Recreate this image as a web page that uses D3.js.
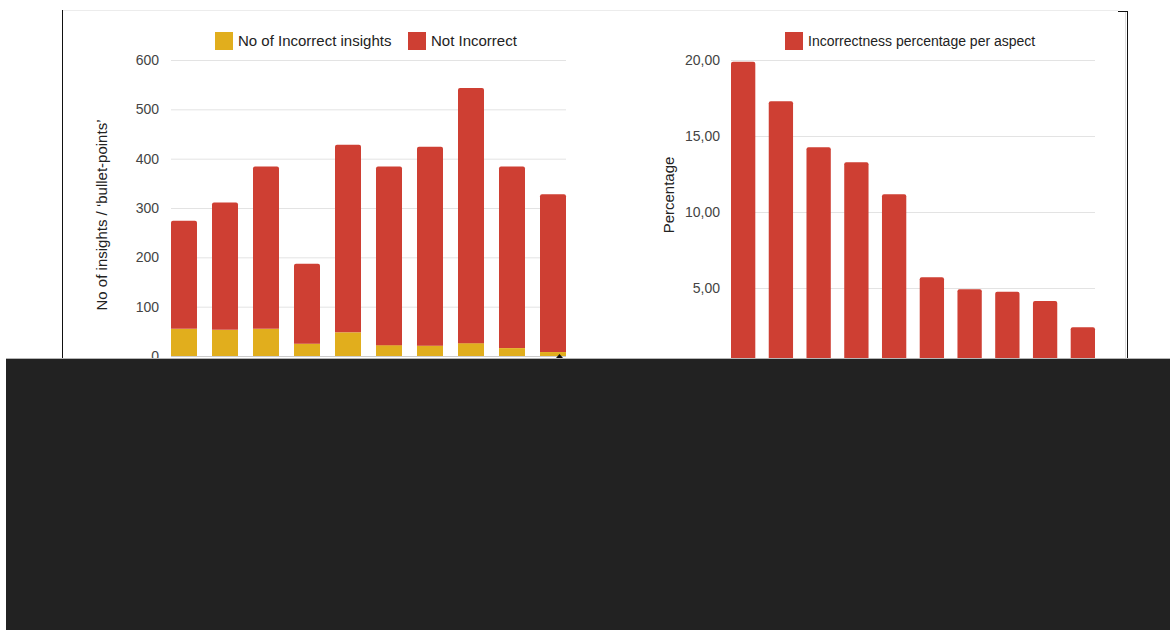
<!DOCTYPE html>
<html>
<head>
<meta charset="utf-8">
<script src="https://cdn.jsdelivr.net/npm/d3@7"></script>
<style>
  html, body { margin: 0; padding: 0; background: #fff; }
  svg { display: block; font-family: "Liberation Sans", Arial, sans-serif; }
</style>
</head>
<body>
<svg id="chart" width="1170" height="630"></svg>
<script>
// ---- data ----
const categories = ["A1","A2","A3","A4","A5","A6","A7","A8","A9","A10"];
const incorrect = [55, 53, 55, 25, 48, 22, 21, 26, 16, 8];
const notIncorrect = [219, 258, 329, 162, 380, 362, 403, 517, 368, 320];
const incorrectPct = [19.89, 17.28, 14.26, 13.27, 11.16, 5.70, 4.91, 4.76, 4.14, 2.41];
const leftTicks = [0, 100, 200, 300, 400, 500, 600];
const rightTicks = [0, 5, 10, 15, 20];
const leftLegend = ["No of Incorrect insights", "Not Incorrect"];
const rightLegend = ["Incorrectness percentage per aspect"];
const leftTitle = "No of insights / \u2018bullet-points\u2019";
const rightTitle = "Percentage";

const RED = "#ce3f33", YELLOW = "#e1ae1d", GRID = "#e3e3e3", TICK = "#444", LEG = "#222";

const svg = d3.select("#chart");

// frame
svg.append("line").attr("x1", 62).attr("x2", 1118).attr("y1", 10.5).attr("y2", 10.5).attr("stroke", "#ececec");
svg.append("line").attr("x1", 62.5).attr("x2", 62.5).attr("y1", 10).attr("y2", 358).attr("stroke", "#111");
svg.append("line").attr("x1", 1118).attr("x2", 1127).attr("y1", 11.5).attr("y2", 11.5).attr("stroke", "#111");
svg.append("line").attr("x1", 1127.5).attr("x2", 1127.5).attr("y1", 11).attr("y2", 358).attr("stroke", "#111");
svg.append("line").attr("x1", 1125.5).attr("x2", 1125.5).attr("y1", 12).attr("y2", 358).attr("stroke", "#ddd");

// ---- left chart ----
const xL = d3.scaleBand().domain(categories).range([171, 566]).paddingInner(0.366).paddingOuter(0);
const yL = d3.scaleLinear().domain([0, 600]).range([356, 60]);

const gL = svg.append("g");
const axL = gL.append("g").attr("transform", "translate(171,0)")
  .call(d3.axisLeft(yL).tickValues(leftTicks).tickSize(-(566 - 171)).tickPadding(12).tickFormat(d3.format("d")));
axL.select(".domain").remove();
axL.selectAll(".tick line").attr("stroke", GRID);
axL.selectAll(".tick text").attr("fill", TICK).attr("font-size", 14).attr("font-family", "Liberation Sans, Arial, sans-serif");

const stacked = categories.map((c, i) => ({ c, inc: incorrect[i], notInc: notIncorrect[i] }));
gL.append("g").selectAll("rect.inc").data(stacked).join("rect")
  .attr("x", d => xL(d.c)).attr("width", xL.bandwidth())
  .attr("y", d => yL(d.inc)).attr("height", d => yL(0) - yL(d.inc))
  .attr("fill", YELLOW);
gL.append("g").selectAll("path.not").data(stacked).join("path")
  .attr("fill", RED)
  .attr("d", d => {
    const x0 = xL(d.c), w = xL.bandwidth(), yt = yL(d.inc + d.notInc), yb = yL(d.inc), r = 2;
    return `M${x0},${yb}V${yt + r}Q${x0},${yt} ${x0 + r},${yt}H${x0 + w - r}Q${x0 + w},${yt} ${x0 + w},${yt + r}V${yb}Z`;
  });
gL.append("line").attr("x1", 171).attr("x2", 566).attr("y1", 356.5).attr("y2", 356.5).attr("stroke", "#ccc");

// left legend
const legL = gL.append("g");
legL.append("rect").attr("x", 215).attr("y", 32).attr("width", 18).attr("height", 18).attr("fill", YELLOW);
legL.append("text").attr("x", 238).attr("y", 46).attr("font-size", 15).attr("fill", LEG).text(leftLegend[0]);
legL.append("rect").attr("x", 408).attr("y", 32).attr("width", 18).attr("height", 18).attr("fill", RED);
legL.append("text").attr("x", 431).attr("y", 46).attr("font-size", 15).attr("fill", LEG).text(leftLegend[1]);

gL.append("text").attr("transform", "translate(107,215) rotate(-90)").attr("text-anchor", "middle")
  .attr("font-size", 15).attr("fill", LEG).text(leftTitle);

// cursor marker
gL.append("path").attr("d", "M556,358L559.5,354L563,358Z").attr("fill", "#111");

// ---- right chart ----
const xR = d3.scaleBand().domain(categories).range([731, 1095]).paddingInner(0.356).paddingOuter(0);
const yR = d3.scaleLinear().domain([0, 20]).range([364, 60]);

const gR = svg.append("g");
const axR = gR.append("g").attr("transform", "translate(731,0)")
  .call(d3.axisLeft(yR).tickValues(rightTicks).tickSize(-(1095 - 731)).tickPadding(11)
    .tickFormat(d => d3.format(".2f")(d).replace(".", ",")));
axR.select(".domain").remove();
axR.selectAll(".tick line").attr("stroke", GRID);
axR.selectAll(".tick text").attr("fill", TICK).attr("font-size", 14).attr("font-family", "Liberation Sans, Arial, sans-serif");

gR.append("g").selectAll("rect").data(categories.map((c, i) => ({ c, v: incorrectPct[i] }))).join("rect")
  .attr("x", d => xR(d.c)).attr("width", xR.bandwidth())
  .attr("y", d => yR(d.v)).attr("height", d => yR(0) - yR(d.v))
  .attr("rx", 2).attr("fill", RED);

const legR = gR.append("g");
legR.append("rect").attr("x", 785).attr("y", 32).attr("width", 18).attr("height", 18).attr("fill", RED);
legR.append("text").attr("x", 808).attr("y", 46).attr("font-size", 14).attr("fill", LEG).text(rightLegend[0]);

gR.append("text").attr("transform", "translate(674,195) rotate(-90)").attr("text-anchor", "middle")
  .attr("font-size", 15).attr("fill", LEG).text(rightTitle);

// ---- dark overlay ----
svg.append("rect").attr("x", 6).attr("y", 358).attr("width", 1164).attr("height", 272).attr("fill", "#222");
svg.append("line").attr("x1", 6).attr("x2", 1170).attr("y1", 358.5).attr("y2", 358.5).attr("stroke", "#b5b5b5");
</script>
</body>
</html>
